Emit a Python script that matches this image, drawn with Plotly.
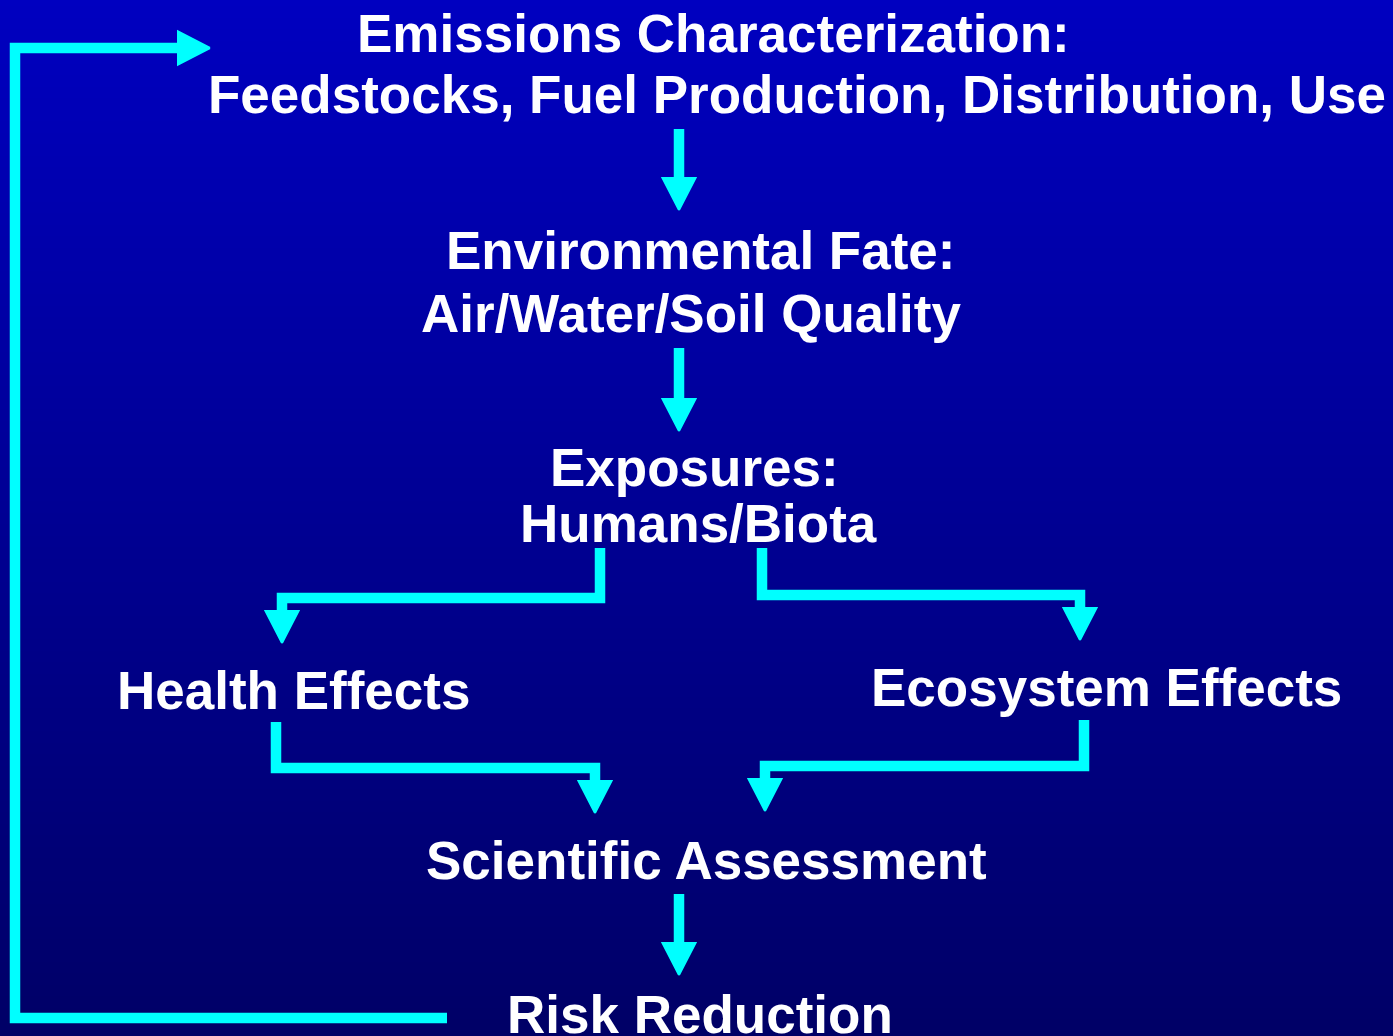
import plotly.graph_objects as go

W, H = 1393, 1036

# ---------------- content ----------------
node_ids = ["emissions", "fate", "exposures", "health", "ecosystem", "assessment", "risk"]
node_text = {
    "emissions": ["Emissions Characterization:", "Feedstocks, Fuel Production, Distribution, Use"],
    "fate": ["Environmental Fate:", "Air/Water/Soil Quality"],
    "exposures": ["Exposures:", "Humans/Biota"],
    "health": ["Health Effects"],
    "ecosystem": ["Ecosystem Effects"],
    "assessment": ["Scientific Assessment"],
    "risk": ["Risk Reduction"],
}
edges = [
    ("emissions", "fate"),
    ("fate", "exposures"),
    ("exposures", "health"),
    ("exposures", "ecosystem"),
    ("health", "assessment"),
    ("ecosystem", "assessment"),
    ("assessment", "risk"),
    ("risk", "emissions"),
]

# ---------------- layout (pixel positions) ----------------
text_pos = {
    "emissions": [(713, 33), (797, 94)],
    "fate": [(700, 250), (691, 313)],
    "exposures": [(694, 467), (698, 523)],
    "health": [(293, 690)],
    "ecosystem": [(1106, 687)],
    "assessment": [(706, 860)],
    "risk": [(700, 1014)],
}
edge_paths = {
    ("emissions", "fate"): [(679, 129), (679, 210)],
    ("fate", "exposures"): [(679, 348), (679, 431)],
    ("exposures", "health"): [(600, 548), (600, 598), (282, 598), (282, 643)],
    ("exposures", "ecosystem"): [(762, 548), (762, 595), (1080, 595), (1080, 640)],
    ("health", "assessment"): [(276, 722), (276, 768), (595, 768), (595, 813)],
    ("ecosystem", "assessment"): [(1084, 720), (1084, 766), (765, 766), (765, 811)],
    ("assessment", "risk"): [(679, 894), (679, 975)],
    ("risk", "emissions"): [(447, 1018), (15, 1018), (15, 48), (210, 48)],
}

LINE_W = 10.5
HEAD_LEN = 32
HEAD_HALF = 16.5
CYAN = "#00FFFF"
FONT = "Liberation Sans, Arial, sans-serif"
FONT_SIZE = 53

fig = go.Figure()

# gradient background
fig.add_trace(go.Heatmap(
    x=[0, W], y=[0, H], z=[[1, 1], [0, 0]],
    zsmooth="best",
    colorscale=[[0, "#000066"], [1, "#0000C0"]],
    showscale=False, hoverinfo="skip",
))

for e in edges:
    pts = edge_paths[e]
    (x0, y0), (x1, y1) = pts[-2], pts[-1]
    dx, dy = x1 - x0, y1 - y0
    L = (dx * dx + dy * dy) ** 0.5
    ux, uy = dx / L, dy / L
    bx, by = x1 - ux * HEAD_LEN, y1 - uy * HEAD_LEN
    shaft = pts[:-1] + [(bx + ux * 4, by + uy * 4)]
    fig.add_trace(go.Scatter(
        x=[p[0] for p in shaft], y=[p[1] for p in shaft],
        mode="lines", line=dict(color=CYAN, width=LINE_W),
        hoverinfo="skip", showlegend=False,
    ))
    px, py = -uy, ux
    tri_x = [x1, bx + px * HEAD_HALF, bx - px * HEAD_HALF, x1]
    tri_y = [y1, by + py * HEAD_HALF, by - py * HEAD_HALF, y1]
    fig.add_trace(go.Scatter(
        x=tri_x, y=tri_y, mode="lines", fill="toself",
        fillcolor=CYAN, line=dict(color=CYAN, width=2),
        hoverinfo="skip", showlegend=False,
    ))

annotations = []
for n in node_ids:
    for line, (x, y) in zip(node_text[n], text_pos[n]):
        annotations.append(dict(
            x=x, y=y, xref="x", yref="y", text=line, showarrow=False,
            xanchor="center", yanchor="middle",
            font=dict(family=FONT, size=FONT_SIZE, color="white", weight="bold"),
        ))

fig.update_layout(
    width=W, height=H,
    margin=dict(l=0, r=0, t=0, b=0),
    paper_bgcolor="#000090", plot_bgcolor="#000090",
    xaxis=dict(range=[0, W], visible=False, fixedrange=True),
    yaxis=dict(range=[H, 0], visible=False, fixedrange=True),
    annotations=annotations,
    showlegend=False,
)

fig.write_html(
    "out.html",
    config={"displayModeBar": False},
    post_script="document.body.style.margin='0';document.body.style.overflow='hidden';",
)
